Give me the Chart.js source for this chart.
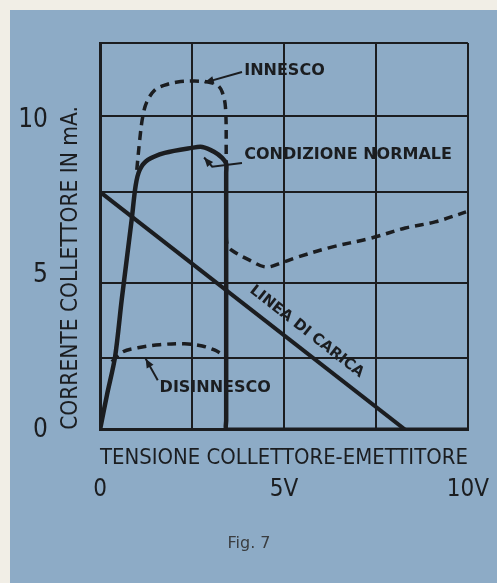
<!DOCTYPE html>
<html>
<head>
<meta charset="utf-8">
<script src="https://cdn.jsdelivr.net/npm/chart.js@4"></script>
<style>
  html, body { margin: 0; padding: 0; background: #f1eee6; }
  #sheet { position: absolute; left: 10px; top: 10px; right: 0; bottom: 0; background: #8dabc6; }
  #fig { position: absolute; left: 0; top: 0; }
</style>
</head>
<body>
<div id="sheet"></div>
<canvas id="fig" width="497" height="583"></canvas>
<script>
/* ====== DATI ====== */
// asse x: tensione collettore-emettitore (V), asse y: corrente collettore (mA)
const xGrid = [0, 2.5, 5, 7.5, 10];
const xTickValues = [0, 5, 10];
const xTickLabels = ["0", "5V", "10V"];
const yGrid = [0, 2.33, 4.75, 7.69, 10.14, 12.5];   // griglia disegnata a mano, non regolare
const yTickValues = [0, 5, 10];
const yTickLabels = ["0", "5", "10"];

// condizione normale (linea piena)
const normaleV = [0, 0.19, 0.41, 0.59, 0.86, 0.97, 1.08, 1.3, 1.76, 2.49, 2.78, 3.11, 3.32, 3.43, 3.43, 3.43, 3.43, 3.6, 10];
const normaleI = [0, 1.13, 2.36, 4.2, 6.78, 7.9, 8.4, 8.72, 8.95, 9.11, 9.14, 8.98, 8.79, 8.6, 8.3, 0.3, 0, 0, 0];

// innesco (tratteggio)
const innescoV = [1.0, 1.08, 1.16, 1.27, 1.49, 1.76, 2.11, 2.57, 2.92, 3.19, 3.32, 3.41, 3.43, 3.43, 3.46, 3.57, 4.05, 4.51, 4.92, 5.32, 6.22, 7.38, 8.3, 9.11, 9.95];
const innescoI = [8.4, 9.37, 10.11, 10.59, 10.98, 11.14, 11.24, 11.27, 11.24, 11.14, 10.92, 10.43, 8.95, 6.3, 5.98, 5.81, 5.49, 5.26, 5.39, 5.56, 5.88, 6.2, 6.52, 6.72, 7.04];

// disinnesco (tratteggio)
const disinnV = [0.32, 0.62, 1.03, 1.62, 2.3, 2.78, 3.11, 3.35];
const disinnI = [2.2, 2.52, 2.65, 2.75, 2.78, 2.71, 2.58, 2.42];

// linea di carica
const caricaV = [0, 8.3];
const caricaI = [7.69, 0];

// didascalie con freccia
const noteText = ["INNESCO", "CONDIZIONE NORMALE", "DISINNESCO"];
const noteAt = [[3.92, 11.6], [3.92, 8.88], [1.62, 1.36]];
const notePointer = [
  [[3.86, 11.56], [2.84, 11.22]],
  [[3.86, 8.62], [3.05, 8.5], [2.83, 8.8]],
  [[1.57, 1.6], [1.24, 2.3]]
];
const caricaText = "LINEA DI CARICA";
const caricaTextAt = [5.62, 3.17];

/* ====== STILE ====== */
const ink = "#1b1d20";
const hand = "'Liberation Sans Narrow', 'DejaVu Sans Condensed', 'Liberation Sans', sans-serif";

const pts = (xs, ys) => xs.map((v, i) => ({ x: v, y: ys[i] }));

/* ====== DIDASCALIE ====== */
const notes = {
  id: "notes",
  afterDatasetsDraw(chart) {
    const { ctx, scales: { x, y } } = chart;
    const px = p => [x.getPixelForValue(p[0]), y.getPixelForValue(p[1])];
    ctx.save();
    ctx.fillStyle = ink;
    ctx.strokeStyle = ink;
    ctx.font = "bold 16px 'DejaVu Sans'";
    ctx.textBaseline = "middle";
    ctx.textAlign = "left";
    noteText.forEach((t, i) => {
      const [tx, ty] = px(noteAt[i]);
      ctx.fillText(t, tx, ty);
      const line = notePointer[i].map(px);
      ctx.lineWidth = 2;
      ctx.beginPath();
      line.forEach(([a, b], k) => k ? ctx.lineTo(a, b) : ctx.moveTo(a, b));
      ctx.stroke();
      const [x1, y1] = line[line.length - 2];
      const [x2, y2] = line[line.length - 1];
      const ang = Math.atan2(y2 - y1, x2 - x1);
      ctx.beginPath();
      ctx.moveTo(x2, y2);
      ctx.lineTo(x2 - 10 * Math.cos(ang - 0.4), y2 - 10 * Math.sin(ang - 0.4));
      ctx.lineTo(x2 - 10 * Math.cos(ang + 0.4), y2 - 10 * Math.sin(ang + 0.4));
      ctx.closePath();
      ctx.fill();
    });

    // testo lungo la linea di carica
    const [ax, ay] = px([caricaV[0], caricaI[0]]);
    const [bx, by] = px([caricaV[1], caricaI[1]]);
    const [cx, cy] = px(caricaTextAt);
    ctx.translate(cx, cy);
    ctx.rotate(Math.atan2(by - ay, bx - ax));
    ctx.textAlign = "center";
    ctx.font = "bold 15px 'DejaVu Sans'";
    ctx.fillText(caricaText, 0, 0);
    ctx.restore();
  }
};

/* ====== GRAFICO ====== */
const gridOpts = { color: ink, lineWidth: 2, drawTicks: false };
const border = { display: true, color: ink, width: 3 };
const noGrid = { display: false, drawTicks: false };

new Chart(document.getElementById("fig"), {
  type: "scatter",
  data: {
    datasets: [
      {
        data: pts(caricaV, caricaI),
        showLine: true, borderColor: ink, borderWidth: 4, pointRadius: 0
      },
      {
        data: pts(normaleV, normaleI),
        showLine: true, borderColor: ink, borderWidth: 4.5, pointRadius: 0,
        tension: 0.3, borderCapStyle: "round", borderJoinStyle: "round"
      },
      {
        data: pts(innescoV, innescoI),
        showLine: true, borderColor: ink, borderWidth: 3.5, pointRadius: 0,
        tension: 0.35, borderDash: [9, 6]
      },
      {
        data: pts(disinnV, disinnI),
        showLine: true, borderColor: ink, borderWidth: 3.5, pointRadius: 0,
        tension: 0.35, borderDash: [9, 6]
      }
    ]
  },
  options: {
    responsive: false,
    animation: false,
    layout: { padding: { left: 20, right: 19, top: 43, bottom: 20 } },
    plugins: {
      legend: { display: false },
      tooltip: { enabled: false },
      title: {
        display: true,
        position: "bottom",
        text: "Fig. 7",
        color: "#3a3d40",
        font: { family: "'DejaVu Sans'", size: 16, weight: "normal", lineHeight: 1.2 },
        padding: { top: 24, bottom: 10 }
      }
    },
    scales: {
      x: {
        type: "linear", position: "bottom", weight: 0,
        min: 0, max: 10,
        afterBuildTicks: s => { s.ticks = xGrid.map(v => ({ value: v })); },
        ticks: { display: false },
        grid: gridOpts,
        border,
        title: {
          display: true,
          align: "end",
          text: "TENSIONE COLLETTORE-EMETTITORE",
          color: ink,
          font: { family: hand, size: 22, lineHeight: 1 },
          padding: { top: 0, bottom: 1 }
        },
        afterFit: s => { s.height = 40; }
      },
      x2: {
        type: "linear", position: "bottom", weight: 1,
        min: 0, max: 10,
        afterBuildTicks: s => { s.ticks = xTickValues.map(v => ({ value: v })); },
        ticks: {
          color: ink, padding: 8,
          font: { family: hand, size: 24, lineHeight: 1 },
          callback: v => xTickLabels[xTickValues.indexOf(v)]
        },
        grid: noGrid,
        border: { display: false },
        afterFit: s => { s.height = 40; }
      },
      y: {
        type: "linear", position: "left", weight: 0,
        min: 0, max: 12.5,
        afterBuildTicks: s => { s.ticks = yGrid.map(v => ({ value: v })); },
        ticks: { display: false },
        grid: gridOpts,
        border,
        title: {
          display: true,
          align: "start",
          text: "CORRENTE COLLETTORE IN mA.",
          color: ink,
          font: { family: hand, size: 22.5, lineHeight: 1 },
          padding: { top: 2, bottom: 0 }
        },
        afterFit: s => { s.width = 42; }
      },
      y2: {
        type: "linear", position: "left", weight: 1,
        min: 0, max: 12.5,
        afterBuildTicks: s => { s.ticks = yTickValues.map(v => ({ value: v })); },
        ticks: {
          color: ink, padding: 10,
          font: { family: hand, size: 26, lineHeight: 1 },
          callback: v => yTickLabels[yTickValues.indexOf(v)]
        },
        grid: noGrid,
        border: { display: false },
        afterFit: s => { s.width = 38; }
      }
    }
  },
  plugins: [notes]
});
</script>
</body>
</html>
